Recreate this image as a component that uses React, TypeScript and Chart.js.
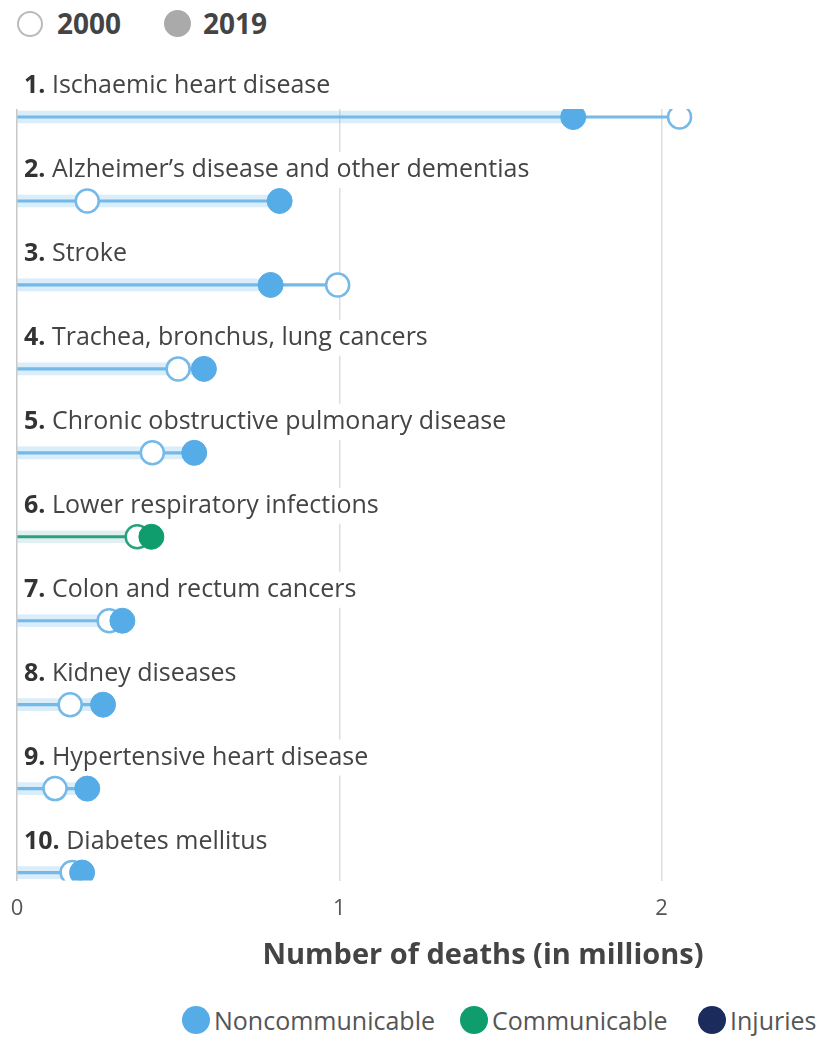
import React, { useEffect, useRef } from 'react';
import { Chart, registerables } from 'chart.js';

Chart.register(...registerables);

const ranks = ['1.', '2.', '3.', '4.', '5.', '6.', '7.', '8.', '9.', '10.'];
const causes = [
  'Ischaemic heart disease',
  'Alzheimer’s disease and other dementias',
  'Stroke',
  'Trachea, bronchus, lung cancers',
  'Chronic obstructive pulmonary disease',
  'Lower respiratory infections',
  'Colon and rectum cancers',
  'Kidney diseases',
  'Hypertensive heart disease',
  'Diabetes mellitus',
];
const groups = [
  'Noncommunicable',
  'Noncommunicable',
  'Noncommunicable',
  'Noncommunicable',
  'Noncommunicable',
  'Communicable',
  'Noncommunicable',
  'Noncommunicable',
  'Noncommunicable',
  'Noncommunicable',
];
const deaths2000 = [2.056, 0.218, 0.995, 0.5, 0.42, 0.373, 0.286, 0.165, 0.118, 0.171];
const deaths2019 = [1.726, 0.815, 0.787, 0.58, 0.55, 0.417, 0.327, 0.267, 0.218, 0.202];
const xTickValues = [0, 1, 2];
const yearLegend = ['2000', '2019'];
const groupLegend = ['Noncommunicable', 'Communicable', 'Injuries'];
const xTitle = 'Number of deaths (in millions)';

const FONT = '"Open Sans", "Noto Sans", sans-serif';
const groupDot: Record<string, string> = {
  Noncommunicable: '#55ace6',
  Communicable: '#0f9d6e',
  Injuries: '#1b2b5c',
};
const groupLine: Record<string, string> = {
  Noncommunicable: '#74b9e8',
  Communicable: '#2aa37a',
  Injuries: '#3b4a78',
};
const groupBand: Record<string, string> = {
  Noncommunicable: 'rgba(85,172,230,0.22)',
  Communicable: 'rgba(120,180,200,0.22)',
  Injuries: 'rgba(27,43,92,0.2)',
};

const LABEL_SIZE = 25;

const rowLabels = {
  id: 'rowLabels',
  beforeDatasetsDraw(chart: any) {
    const { ctx, scales } = chart;
    const y = scales.y;
    ctx.save();
    ctx.textBaseline = 'middle';
    causes.forEach((c, i) => {
      const yc = y.getPixelForValue(i) - 31;
      const x0 = 24;
      ctx.font = `bold ${LABEL_SIZE}px ${FONT}`;
      const num = ranks[i] + ' ';
      const w1 = ctx.measureText(num).width;
      ctx.font = `${LABEL_SIZE}px ${FONT}`;
      const w2 = ctx.measureText(c).width;
      ctx.fillStyle = '#ffffff';
      ctx.fillRect(x0 - 4, yc - 18, w1 + w2 + 8, 36);
      ctx.fillStyle = '#333333';
      ctx.font = `bold ${LABEL_SIZE}px ${FONT}`;
      ctx.fillText(ranks[i], x0, yc);
      ctx.fillStyle = '#444444';
      ctx.font = `${LABEL_SIZE}px ${FONT}`;
      ctx.fillText(c, x0 + w1, yc);
    });
    ctx.restore();
  },
};

export default function App() {
  const ref = useRef<HTMLCanvasElement | null>(null);

  useEffect(() => {
    if (!ref.current) return;
    const dotColors = groups.map((g) => groupDot[g]);
    const lineColors = groups.map((g) => groupLine[g]);
    const bandColors = groups.map((g) => groupBand[g]);
    const chart = new Chart(ref.current, {
      type: 'bar',
      data: {
        datasets: [
          {
            type: 'scatter',
            label: '2019',
            data: deaths2019.map((v, i) => ({ x: v, y: i })),
            pointRadius: 12.5,
            pointBackgroundColor: dotColors,
            pointBorderColor: dotColors,
            pointBorderWidth: 1,
            order: 1,
          } as any,
          {
            type: 'scatter',
            label: '2000',
            data: deaths2000.map((v, i) => ({ x: v, y: i })),
            pointRadius: 11.5,
            pointBackgroundColor: '#ffffff',
            pointBorderColor: lineColors,
            pointBorderWidth: 2.5,
            order: 2,
          } as any,
          {
            type: 'bar',
            label: 'connector',
            data: deaths2000.map((v, i) => ({ x: Math.max(v, deaths2019[i]), y: i })),
            backgroundColor: lineColors,
            barThickness: 2.5,
            grouped: false,
            order: 3,
          } as any,
          {
            type: 'bar',
            label: 'band',
            data: deaths2019.map((v, i) => ({ x: v, y: i })),
            backgroundColor: bandColors,
            barThickness: 12,
            grouped: false,
            order: 4,
          } as any,
        ],
      },
      options: {
        indexAxis: 'y',
        animation: false,
        responsive: false,
        devicePixelRatio: 1,
        events: [],
        layout: { padding: { left: 17, right: 5, top: 109, bottom: 0 } },
        plugins: {
          legend: { display: false },
          tooltip: { enabled: false },
        },
        scales: {
          x: {
            type: 'linear',
            min: 0,
            max: 2.467,
            afterBuildTicks: (scale: any) => {
              scale.ticks = xTickValues.map((v) => ({ value: v }));
            },
            afterFit: (scale: any) => {
              scale.paddingLeft = 0;
              scale.paddingRight = 0;
            },
            grid: {
              drawTicks: false,
              color: (c: any) => (c.tick && c.tick.value === 0 ? '#c8c8c8' : '#dddddd'),
              lineWidth: 1.5,
            },
            border: { display: false },
            ticks: {
              padding: 15,
              color: '#555555',
              font: { size: 22, family: FONT },
              maxRotation: 0,
            },
          },
          y: {
            type: 'linear',
            reverse: true,
            offset: false,
            grace: 0,
            min: -0.0957,
            max: 9.0957,
            display: false,
          },
        },
      } as any,
      plugins: [rowLabels],
    });
    return () => chart.destroy();
  }, []);

  const txt: React.CSSProperties = {
    position: 'absolute',
    fontFamily: FONT,
    whiteSpace: 'nowrap',
    color: '#444444',
  };
  const legendX = [196, 474, 712];

  return (
    <div
      style={{
        position: 'absolute',
        left: 0,
        top: 0,
        width: 826,
        height: 1037,
        overflow: 'hidden',
        background: '#ffffff',
      }}
    >
      <div
        style={{
          position: 'absolute',
          left: 17,
          top: 11,
          width: 22,
          height: 22,
          borderRadius: '50%',
          border: '2.5px solid #bbbbbb',
          boxSizing: 'content-box',
        }}
      />
      <div style={{ ...txt, left: 57, top: 3, fontSize: 28, lineHeight: '40px', fontWeight: 700 }}>
        {yearLegend[0]}
      </div>
      <div
        style={{
          position: 'absolute',
          left: 164,
          top: 10,
          width: 27,
          height: 27,
          borderRadius: '50%',
          background: '#aaaaaa',
        }}
      />
      <div style={{ ...txt, left: 203, top: 3, fontSize: 28, lineHeight: '40px', fontWeight: 700 }}>
        {yearLegend[1]}
      </div>
      <canvas
        ref={ref}
        width={826}
        height={937}
        style={{ position: 'absolute', left: 0, top: 0, width: 826, height: 937 }}
      />
      <div
        style={{
          ...txt,
          left: 483,
          top: 933,
          transform: 'translateX(-50%)',
          fontSize: 29,
          lineHeight: '40px',
          fontWeight: 700,
        }}
      >
        {xTitle}
      </div>
      {groupLegend.map((g, i) => (
        <React.Fragment key={g}>
          <div
            style={{
              position: 'absolute',
              left: legendX[i] - 14,
              top: 1020 - 14,
              width: 28,
              height: 28,
              borderRadius: '50%',
              background: groupDot[g],
            }}
          />
          <div style={{ ...txt, left: legendX[i] + 18, top: 1002, fontSize: 25, lineHeight: '36px', color: '#555555' }}>
            {g}
          </div>
        </React.Fragment>
      ))}
    </div>
  );
}
